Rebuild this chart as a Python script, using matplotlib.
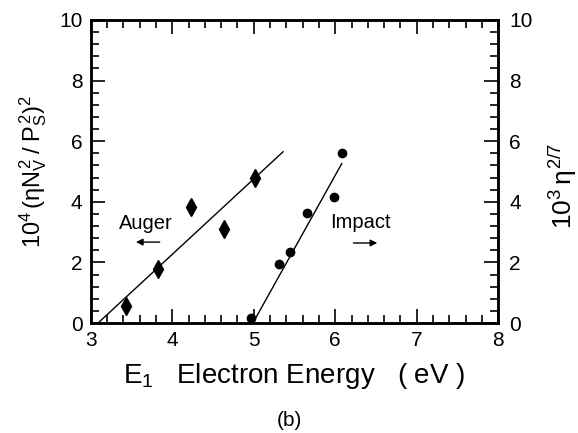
import matplotlib
matplotlib.use("Agg")
import matplotlib.pyplot as plt
from matplotlib.ticker import MultipleLocator

plt.rcParams["font.family"] = ["Liberation Sans", "DejaVu Sans"]
plt.rcParams["mathtext.fontset"] = "custom"
plt.rcParams["mathtext.rm"] = "Liberation Sans"
plt.rcParams["mathtext.it"] = "Liberation Sans"

# Auger data (diamonds, left axis)
auger_e = [3.43, 3.83, 4.23, 4.63, 5.01]
auger_y = [0.56, 1.79, 3.82, 3.10, 4.78]
auger_fit_e = [3.09, 5.36]
auger_fit_y = [0.0, 5.65]

# Impact data (circles, right axis)
impact_e = [4.97, 5.31, 5.44, 5.65, 5.98, 6.08]
impact_y = [0.15, 1.95, 2.35, 3.64, 4.17, 5.60]
impact_fit_e = [4.99, 6.08]
impact_fit_y = [0.0, 5.26]

fig = plt.figure(figsize=(5.78, 4.33), dpi=100)
ax = fig.add_axes([0.157, 0.254, 0.705, 0.700])

ax.plot(auger_fit_e, auger_fit_y, color="black", lw=1.0)
ax.plot(auger_e, auger_y, linestyle="none", marker="d", color="black", markersize=9)
ax.plot(impact_fit_e, impact_fit_y, color="black", lw=1.0)
ax.plot(impact_e, impact_y, linestyle="none", marker="o", color="black", markersize=6)

ax.set_xlim(3, 8)
ax.set_ylim(0, 10)
ax.xaxis.set_major_locator(MultipleLocator(1))
ax.xaxis.set_minor_locator(MultipleLocator(0.2))
ax.yaxis.set_major_locator(MultipleLocator(2))
ax.yaxis.set_minor_locator(MultipleLocator(0.4))

ax2 = ax.twinx()
ax2.set_ylim(0, 10)
ax2.yaxis.set_major_locator(MultipleLocator(2))
ax2.yaxis.set_minor_locator(MultipleLocator(0.4))

for a in (ax, ax2):
    for s in a.spines.values():
        s.set_linewidth(1.8)
ax.tick_params(which="both", direction="in", top=True, labelsize=15, width=1.2, pad=6)
ax.tick_params(axis="y", which="both", right=False)
ax.tick_params(which="major", length=10)
ax.tick_params(which="minor", length=6)
ax2.tick_params(which="both", direction="in", labelsize=15, width=1.2, pad=8)
ax2.tick_params(which="major", length=10)
ax2.tick_params(which="minor", length=6)

ax.text(3.67, 3.27, "Auger", ha="center", va="center", fontsize=14.5)
ax.annotate("", xy=(3.52, 2.67), xytext=(3.88, 2.67),
            arrowprops=dict(arrowstyle="-|>", color="black", lw=1.0, mutation_scale=10))
ax.text(6.31, 3.30, "Impact", ha="center", va="center", fontsize=14.5)
ax.annotate("", xy=(6.55, 2.64), xytext=(6.19, 2.64),
            arrowprops=dict(arrowstyle="-|>", color="black", lw=1.0, mutation_scale=10))

ax.set_ylabel(r"$10^4\,(\eta N_V^2\;/\;P_S^2)^2$", fontsize=17, labelpad=7)
ax2.set_ylabel(r"$10^3\,\eta^{2/7}$", fontsize=19, labelpad=10)
ax2.yaxis.set_label_coords(1.12, 0.45)
ax.set_xlabel(r"E$_1$   Electron Energy   ( eV )", fontsize=20, labelpad=8)

fig.text(0.50, 0.03, "(b)", ha="center", va="center", fontsize=15)

fig.savefig("out.png", dpi=100)
